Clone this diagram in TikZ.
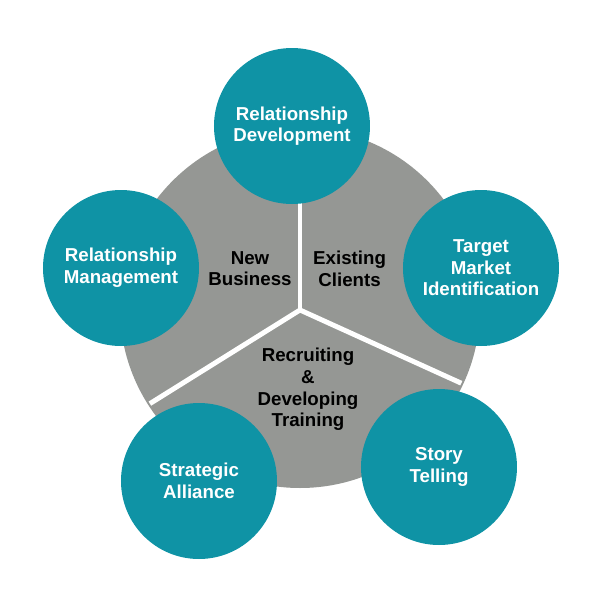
\documentclass[tikz,border=0pt]{standalone}
\usepackage{fontspec}
\setmainfont{Liberation Sans}
\usetikzlibrary{arrows}
\definecolor{bubblecol}{HTML}{0F93A5}
\definecolor{platecol}{HTML}{959794}

\begin{document}
\begin{tikzpicture}[line cap=round,line join=round,x=1.0cm,y=1.0cm]
\useasboundingbox (-7.5,-7.3) rectangle (7.5,7.7);
\tikzset{bubble/.style={circle,fill=bubblecol,minimum size=3.9cm,inner sep=0pt,text=white,align=center,font=\bfseries\fontsize{13.3}{15.4}\selectfont},
  plate/.style={text=black,align=center,font=\bfseries\fontsize{13.3}{15.4}\selectfont}}
\fill [color=platecol] (0,0) circle (4.5cm);
\coordinate (hub) at (0,-0.05);
\coordinate (up) at (0,2.7);
\coordinate (lowl) at (-147.5:4.45);
\coordinate (lowr) at (-25:4.45);
\draw [line width=3.5pt,color=white,line cap=butt] (hub)-- (up);
\draw [line width=3.5pt,color=white,line cap=butt] (hub)-- (lowl);
\draw [line width=3.5pt,color=white,line cap=butt] (hub)-- (lowr);
\node[bubble] (dev) at (-0.2,4.55) {Relationship\\Development};
\node[bubble] (mgmt) at (-4.475,1.0) {Relationship\\Management};
\node[bubble] (target) at (4.525,1.0) {Target\\Market\\Identification};
\node[bubble] (alliance) at (-2.525,-4.325) {Strategic\\Alliance};
\node[bubble] (story) at (3.475,-3.975) {Story\\Telling};
\node[plate] (newbiz) at (-1.25,0.98) {New\\Business};
\node[plate] (existing) at (1.24,0.98) {Existing\\Clients};
\node[plate] (recruit) at (0.2,-2.04) {Recruiting\\\&\\Developing\\Training};
\end{tikzpicture}
\end{document}
